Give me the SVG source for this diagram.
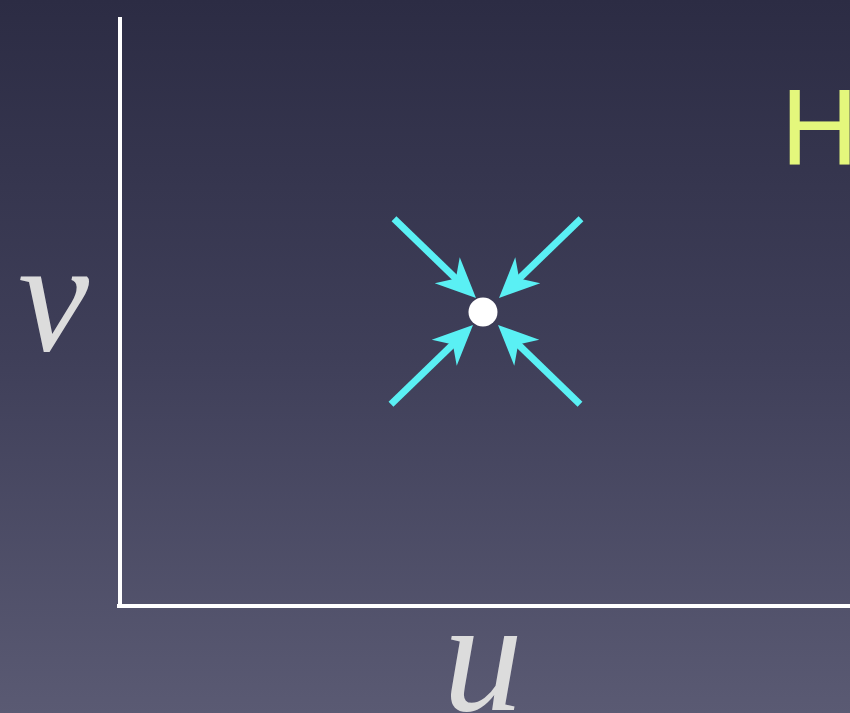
<svg xmlns="http://www.w3.org/2000/svg" width="850" height="713" viewBox="0 0 850 713">
<defs>
<linearGradient id="bg" x1="0" y1="0" x2="0" y2="1">
<stop offset="0" stop-color="#2c2c44"/>
<stop offset="0.5" stop-color="#3f3f59"/>
<stop offset="1" stop-color="#5a5a73"/>
</linearGradient>
<g id="arrow">
<line x1="-114" y1="0" x2="-26" y2="0" stroke="#5af0f4" stroke-width="7"/>
<polygon points="0,0 -40,-18 -28,0 -40,18" fill="#5af0f4"/>
</g>
<style>
.axis{stroke:#ffffff;stroke-width:4;fill:none}
.math{font-family:"Liberation Serif","DejaVu Serif",serif;font-style:italic;font-size:160px;fill:#dcdcdc}
</style>
</defs>
<rect width="850" height="713" fill="url(#bg)"/>
<g id="axes">
<line class="axis" x1="120" y1="17" x2="120" y2="606"/>
<line class="axis" x1="117" y1="606" x2="850" y2="606"/>
</g>
<g id="label-v"><text class="math" x="18" y="350">v</text></g>
<g id="label-u"><text class="math" x="443" y="710">u</text></g>
<g id="label-H"><text x="781" y="164" font-family="Liberation Sans, Arial, sans-serif" font-size="107" fill="#e4f77c">H</text></g>
<g id="connectors">
<use href="#arrow" transform="translate(476,298) rotate(44)"/>
<use href="#arrow" transform="translate(499,298) rotate(136)"/>
<use href="#arrow" transform="translate(473,325) rotate(-44)"/>
<use href="#arrow" transform="translate(498,325) rotate(-136)"/>
</g>
<g id="point"><circle cx="483" cy="312" r="14.5" fill="#ffffff"/></g>
</svg>
